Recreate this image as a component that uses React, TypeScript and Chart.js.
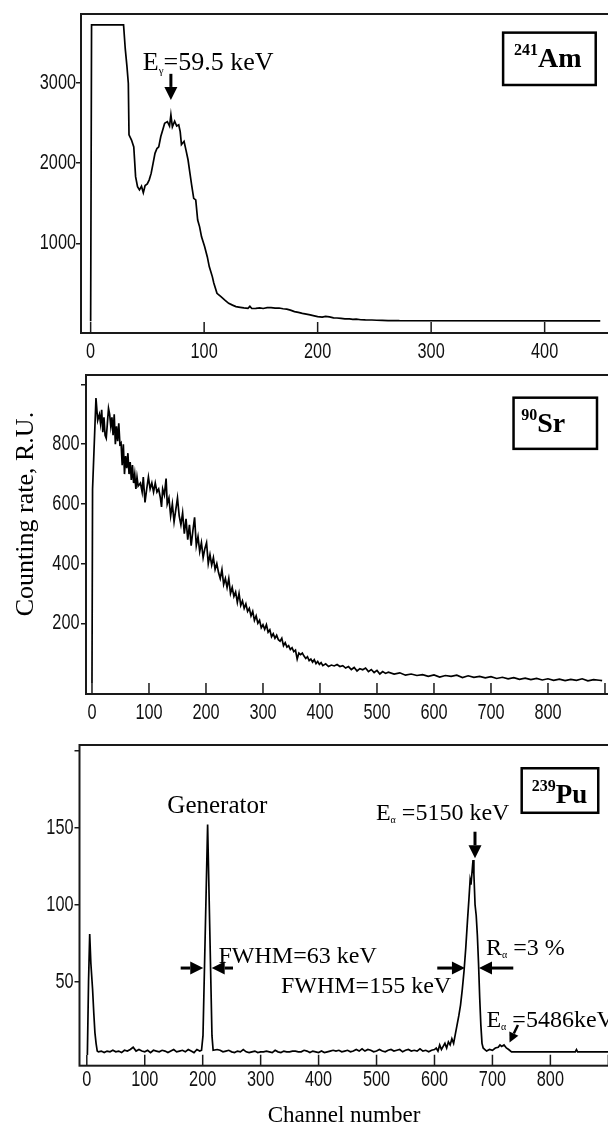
import React, { useEffect, useRef } from 'react';
import { Chart, registerables } from 'chart.js';

Chart.register(...registerables);

const SERIF = "'Liberation Serif', 'Times New Roman', Times, serif";
const SANS = "'Liberation Sans', Arial, sans-serif";

// ---------- 241Am spectrum ----------
const amChannels = [
  0, 0.8, 29, 30.5, 32, 33.2, 33.8, 36, 38, 39.6,
  41.3, 43, 44.8, 46.4, 48, 49.9, 51.6, 53.3, 55, 56.7,
  58.4, 60, 61.8, 63.5, 65.2, 67.6, 69.5, 70.7, 72, 74,
  75.8, 77.6, 78.9, 80, 82.3, 84, 85.8, 87.5, 89, 90.8,
  92.6, 94.3, 96, 97.7, 100.4, 102.8, 104.5, 107.2, 108.5, 111.3,
  114.8, 118, 121.6, 125, 128, 131.8, 135, 138.6, 140.3, 142,
  145.5, 149, 152, 155.5, 159, 162.5, 166, 169.5, 172.8, 176,
  179.6, 183, 186.5, 190, 193.4, 197, 200, 204, 207, 210.4,
  214, 217, 220.6, 224, 228, 231, 234, 238, 242, 247.8,
  252, 257, 262, 267, 272, 449,
];
const amCounts = [
  30, 3720, 3720, 3420, 3200, 2990, 2350, 2285, 2200, 1830,
  1705, 1665, 1710, 1630, 1720, 1740, 1790, 1870, 1995, 2120,
  2180, 2200, 2330, 2410, 2495, 2515, 2460, 2600, 2450, 2520,
  2460, 2475, 2390, 2230, 2270, 2160, 2040, 1870, 1725, 1560,
  1540, 1290, 1205, 1080, 960, 830, 710, 585, 505, 377,
  335, 295, 253, 230, 212, 203, 195, 190, 215, 188,
  190, 196, 188, 198, 200, 192, 194, 185, 180, 168,
  150, 140, 128, 118, 108, 96, 86, 80, 90, 84,
  72, 70, 65, 60, 58, 52, 55, 48, 46, 45,
  42, 40, 37, 38, 36, 35,
];
const amXTicks = [0, 100, 200, 300, 400];
const amXLabels = ['0', '100', '200', '300', '400'];
const amYTicks = [1000, 2000, 3000];
const amYLabels = ['1000', '2000', '3000'];

// ---------- 90Sr spectrum ----------
const srChannels = [
  0, 1, 7,
  10, 13, 15, 17, 19, 21, 23, 25, 27, 29, 31, 33, 35, 37, 39, 41, 43, 45,
  47, 49, 51, 53, 55, 57, 59, 61, 63, 65, 67, 69, 71, 73, 75, 77, 79, 81,
  85, 88, 90, 93, 96, 99, 102, 105, 108, 111, 114, 117, 120, 122, 124, 127, 130, 132,
  135, 138, 141, 144, 147, 150, 153, 156, 159, 162,
  165, 168, 171, 174, 177, 180, 183, 186, 189, 192,
  195, 198, 201, 204, 207, 210, 213, 216, 219, 222,
  225, 228, 231, 234, 237, 240, 243, 246, 249, 252,
  255, 258, 261, 264, 267, 270, 273, 276, 279, 282,
  285, 288, 291, 294, 297, 300, 303, 306, 309, 312,
  315, 318, 321, 324, 327, 330, 333, 336, 339, 342,
  345, 348, 351, 354, 357, 360, 363, 366, 369, 372,
  375, 378, 381, 384, 387, 390, 393, 396, 399, 402,
  405,
  410, 415, 420, 425, 430, 435, 440, 445, 450, 455, 460, 465, 470, 475, 480, 485,
  490, 495, 500, 505, 510, 515, 520,
  530, 540, 550, 560, 570, 580, 590, 600, 610, 620, 630, 640, 650, 660, 670, 680,
  690, 700, 710, 720, 730, 740, 750, 760, 770, 780, 790, 800, 810, 820, 830, 840,
  850, 860, 870, 880, 890,
  895,
];
const srCounts = [
  0, 650, 955,
  880, 900, 870, 915, 840, 890, 830, 820, 870, 920, 900, 860, 890, 830, 900, 800, 860, 810,
  870, 800, 805, 730, 800, 700, 760, 720, 770, 700, 740, 680, 730, 670, 700, 650, 690, 660,
  670, 640, 690, 605, 650, 690, 650, 670, 640, 670, 640, 650, 620, 590, 650, 630, 685, 600,
  620, 560, 600, 540, 580, 620, 560, 530, 570, 500,
  550, 480, 530, 460, 510, 555, 460, 490, 440, 470,
  420, 450, 470, 400, 430, 395, 420, 380, 400, 370,
  350, 380, 330, 350, 320, 350, 300, 320, 290, 305,
  270, 300, 260, 275, 250, 265, 240, 250, 225, 240,
  210, 225, 200, 210, 185, 195, 180, 195, 170, 178,
  155, 165, 150, 160, 145, 140, 150, 125, 135, 120,
  125, 112, 118, 105, 110, 80, 100, 95, 100, 90,
  82, 88, 75, 80, 70, 78, 65, 72, 62, 68,
  58,
  64, 55, 60, 57, 62, 55, 58, 50, 55, 45, 52, 40, 48, 44, 50, 38,
  45, 35, 42, 30, 38, 32, 36,
  30, 34, 26, 30, 25, 28, 22, 27, 20, 25, 22, 26, 18, 24, 19, 22,
  17, 21, 15, 19, 14, 18, 12, 16, 11, 15, 10, 14, 9, 13, 8, 12,
  9, 14, 7, 11, 9,
  8,
];
const srXTicks = [0, 100, 200, 300, 400, 500, 600, 700, 800, 900];
const srXLabels = ['0', '100', '200', '300', '400', '500', '600', '700', '800', ''];
const srYTicks = [200, 400, 600, 800, 1000];
const srYLabels = ['200', '400', '600', '800', ''];

// ---------- 239Pu spectrum ----------
const puChannels = [
  0, 1, 3, 5, 7, 10, 12, 14, 16, 18,
  20, 25, 30, 35, 40, 45, 50, 55, 60, 65, 70, 75, 80, 85, 90, 95, 100, 105,
  110, 115, 120, 125, 130, 135, 140, 145, 150, 155, 160, 165, 170, 175, 180, 185, 190, 195,
  198, 200.5, 208.5, 216, 218,
  225, 230, 235, 240, 245, 250, 255, 260, 265, 270,
  275, 280, 285, 290, 295, 300, 305, 310, 315, 320,
  325, 330, 335, 340, 345, 350, 355, 360, 365, 370,
  375, 380, 385, 390, 395, 400, 405, 410, 415, 420,
  425, 430, 435, 440, 445, 450, 455, 460, 465, 470,
  475, 480, 485, 490, 495, 500, 505, 510, 515, 520,
  525, 530, 535, 540, 545, 550, 555, 560, 565, 570,
  575, 580, 585, 590, 595, 600,
  603, 606, 609, 612, 615, 618, 621, 624, 627, 630,
  633, 636, 639, 642, 645, 648, 651, 654, 657, 659.5,
  661.5, 663, 665, 666.5, 668, 670, 672, 674, 676, 678,
  680, 682, 684, 687, 690,
  695, 700, 705, 710, 713, 716, 720, 724, 728, 733,
  780, 843, 845, 847, 930,
];
const puCounts = [
  3, 3, 50, 81, 62, 45, 30, 17, 10, 5,
  4.5, 5, 4, 5, 4.5, 5.5, 4.5, 5, 4, 5.5, 5, 6, 7.5, 5, 6, 5, 4.5, 5.5,
  4, 5.5, 5, 4.5, 5.5, 5, 4, 5, 6, 4.5, 5, 5.5, 4.5, 6, 5, 4, 6, 5,
  5.5, 15, 152, 15, 5.5,
  6, 5.5, 4.5, 5, 5.5, 4.5, 4, 5, 4.5, 6,
  4.5, 4, 4.5, 5, 4, 4.5, 4.5, 5, 4.5, 4,
  5.5, 4.5, 4, 5, 4.5, 4.5, 5, 5, 4.5, 4.5,
  5.5, 5, 4, 5, 4.5, 4, 5, 4, 4.5, 5,
  5.5, 5, 5.5, 4.5, 5, 5.5, 4.5, 5, 6, 5,
  6.5, 5, 6, 5.5, 4.5, 5, 6, 5, 4.5, 5.5,
  6, 5, 5.5, 6, 4.5, 5.5, 6, 5, 5.5, 5,
  6.5, 5, 5.5, 4.5, 5.5, 6,
  7, 5, 9, 6, 8, 10, 7, 11, 9, 13,
  10, 16, 22, 28, 35, 45, 57, 72, 90, 104,
  116, 113, 122, 129, 120, 100, 93, 80, 62, 40,
  22, 10, 7, 6, 5,
  6, 5.5, 7, 7.5, 9, 8, 9, 7, 6, 4.5,
  4.5, 4.5, 6, 4.5, 4.5,
];
const puXTicks = [0, 100, 200, 300, 400, 500, 600, 700, 800, 900];
const puXLabels = ['0', '100', '200', '300', '400', '500', '600', '700', '800', ''];
const puYTicks = [50, 100, 150, 200];
const puYLabels = ['50', '100', '150', ''];

// ---------- types ----------
type Part = { t: string; size: number; bold?: boolean; dy?: number };
type TextAnn = { x: number; y: number; parts: Part[] };
type ArrowAnn = { x1: number; y1: number; x2: number; y2: number; head?: number; half?: number; lw?: number };
type BoxAnn = { x1: number; y1: number; x2: number; y2: number };
type PanelCfg = {
  top: number; width: number; height: number; padTop: number; yWidth: number; xHeight: number;
  xMin: number; xMax: number; yMin: number; yMax: number;
  xTicks: number[]; xLabels: string[]; yTicks: number[]; yLabels: string[];
  xLabelDy: number; yLabelGap: number;
  channels: number[]; counts: number[];
  texts: TextAnn[]; arrows: ArrowAnn[]; boxes: BoxAnn[];
  yTitle?: { text: string; px: number; value: number; size: number };
  xTitle?: { text: string; value: number; dy: number; size: number };
};

const amPanel: PanelCfg = {
  top: 0, width: 630, height: 370, padTop: 14, yWidth: 81, xHeight: 37,
  xMin: -8.5, xMax: 475.2, yMin: -117, yMax: 3855,
  xTicks: amXTicks, xLabels: amXLabels, yTicks: amYTicks, yLabels: amYLabels,
  xLabelDy: 18.5, yLabelGap: 5,
  channels: amChannels, counts: amCounts,
  texts: [
    { x: 46, y: 3158, parts: [{ t: 'E', size: 26 }, { t: 'γ', size: 11, dy: 4 }, { t: '=59.5 keV', size: 26 }] },
    { x: 373, y: 3199, parts: [{ t: '241', size: 16, bold: true, dy: -12 }, { t: 'Am', size: 28, bold: true }] },
  ],
  arrows: [{ x1: 70.7, y1: 3110, x2: 70.7, y2: 2785 }],
  boxes: [{ x1: 363.4, y1: 3623, x2: 445, y2: 2971 }],
};

const srPanel: PanelCfg = {
  top: 355, width: 630, height: 369, padTop: 20, yWidth: 86, xHeight: 30,
  xMin: -10.5, xMax: 943.9, yMin: -37, yMax: 1032,
  xTicks: srXTicks, xLabels: srXLabels, yTicks: srYTicks, yLabels: srYLabels,
  xLabelDy: 18.5, yLabelGap: 6.5,
  channels: srChannels, counts: srCounts,
  texts: [
    { x: 753, y: 842, parts: [{ t: '90', size: 16, bold: true, dy: -12 }, { t: 'Sr', size: 28, bold: true }] },
  ],
  arrows: [],
  boxes: [{ x1: 739.6, y1: 956, x2: 886, y2: 784.5 }],
  yTitle: { text: 'Counting rate, R.U.', px: 26, value: 566, size: 26 },
};

const puPanel: PanelCfg = {
  top: 725, width: 630, height: 403, padTop: 20, yWidth: 79.5, xHeight: 62.3,
  xMin: -12.6, xMax: 937.4, yMin: -4.5, yMax: 203.7,
  xTicks: puXTicks, xLabels: puXLabels, yTicks: puYTicks, yLabels: puYLabels,
  xLabelDy: 14.5, yLabelGap: 6,
  channels: puChannels, counts: puCounts,
  texts: [
    { x: 139, y: 159.7, parts: [{ t: 'Generator', size: 25 }] },
    { x: 227.3, y: 62, parts: [{ t: 'FWHM=63 keV', size: 24 }] },
    { x: 335, y: 42.5, parts: [{ t: 'FWHM=155 keV', size: 24 }] },
    { x: 688.9, y: 67.3, parts: [{ t: 'R', size: 24 }, { t: 'α', size: 10, dy: 3 }, { t: ' =3 %', size: 24 }] },
    { x: 499, y: 155, parts: [{ t: 'E', size: 24 }, { t: 'α', size: 10, dy: 3 }, { t: ' =5150 keV', size: 24 }] },
    { x: 689.7, y: 20.3, parts: [{ t: 'E', size: 24 }, { t: 'α', size: 10, dy: 3 }, { t: ' =5486keV', size: 24 }] },
    { x: 767.7, y: 165.8, parts: [{ t: '239', size: 16, bold: true, dy: -12 }, { t: 'Pu', size: 27, bold: true }] },
  ],
  arrows: [
    { x1: 162, y1: 58.9, x2: 201, y2: 58.9 },
    { x1: 252.3, y1: 58.9, x2: 215.5, y2: 58.9 },
    { x1: 604.8, y1: 58.9, x2: 652.6, y2: 58.9 },
    { x1: 736, y1: 58.9, x2: 676.8, y2: 58.9 },
    { x1: 669.9, y1: 147.4, x2: 669.9, y2: 130.1 },
    { x1: 744, y1: 21.9, x2: 729.5, y2: 10.5, head: 10, half: 5, lw: 2.5 },
  ],
  boxes: [{ x1: 750.5, y1: 188.6, x2: 882.6, y2: 159.7 }],
  xTitle: { text: 'Channel number', value: 443.8, dy: 56, size: 23 },
};

function drawArrow(ctx: CanvasRenderingContext2D, x1: number, y1: number, x2: number, y2: number,
  head = 13, half = 6.5, lw = 3) {
  const ang = Math.atan2(y2 - y1, x2 - x1);
  const bx = x2 - head * Math.cos(ang);
  const by = y2 - head * Math.sin(ang);
  ctx.lineWidth = lw;
  ctx.beginPath();
  ctx.moveTo(x1, y1);
  ctx.lineTo(bx, by);
  ctx.stroke();
  ctx.beginPath();
  ctx.moveTo(x2, y2);
  ctx.lineTo(bx + half * Math.sin(ang), by - half * Math.cos(ang));
  ctx.lineTo(bx - half * Math.sin(ang), by + half * Math.cos(ang));
  ctx.closePath();
  ctx.fill();
}

// condensed tick label (narrow sans, like Arial Narrow)
function narrowText(ctx: CanvasRenderingContext2D, text: string, x: number, y: number, align: CanvasTextAlign) {
  ctx.save();
  ctx.translate(x, y);
  ctx.scale(0.74, 1);
  ctx.font = `22px ${SANS}`;
  ctx.textAlign = align;
  ctx.textBaseline = 'middle';
  ctx.fillText(text, 0, 0);
  ctx.restore();
}

function makeAnnotPlugin(cfg: PanelCfg) {
  return {
    id: 'annot',
    afterDraw(chart: any) {
      const ctx: CanvasRenderingContext2D = chart.ctx;
      const a = chart.chartArea;
      const xs = chart.scales.x;
      const ys = chart.scales.y;
      const px = (v: number) => xs.getPixelForValue(v);
      const py = (v: number) => ys.getPixelForValue(v);
      ctx.save();
      // frame
      ctx.strokeStyle = '#1a1a1a';
      ctx.lineWidth = 2;
      ctx.strokeRect(a.left, a.top, a.right - a.left, a.bottom - a.top);
      // inward x ticks
      ctx.lineWidth = 1.5;
      ctx.beginPath();
      xs.ticks.forEach((t: any) => {
        const x = px(t.value);
        ctx.moveTo(x, a.bottom);
        ctx.lineTo(x, a.bottom - 11);
      });
      ctx.stroke();
      // tick labels (condensed)
      ctx.fillStyle = '#111';
      xs.ticks.forEach((t: any) => {
        const i = cfg.xTicks.indexOf(t.value);
        const lab = i >= 0 ? cfg.xLabels[i] : '';
        if (lab) narrowText(ctx, lab, px(t.value), a.bottom + cfg.xLabelDy, 'center');
      });
      ys.ticks.forEach((t: any) => {
        const i = cfg.yTicks.indexOf(t.value);
        const lab = i >= 0 ? cfg.yLabels[i] : '';
        if (lab) narrowText(ctx, lab, a.left - cfg.yLabelGap, py(t.value), 'right');
      });
      // boxes
      ctx.strokeStyle = '#000';
      ctx.fillStyle = '#000';
      ctx.lineWidth = 2.5;
      cfg.boxes.forEach((b) => {
        const x1 = px(b.x1), x2 = px(b.x2), y1 = py(b.y1), y2 = py(b.y2);
        ctx.strokeRect(x1, y1, x2 - x1, y2 - y1);
      });
      // arrows
      cfg.arrows.forEach((ar) => {
        drawArrow(ctx, px(ar.x1), py(ar.y1), px(ar.x2), py(ar.y2), ar.head, ar.half, ar.lw);
      });
      // texts
      ctx.textAlign = 'left';
      ctx.textBaseline = 'alphabetic';
      cfg.texts.forEach((tx) => {
        let cx = px(tx.x);
        const by = py(tx.y);
        tx.parts.forEach((p) => {
          ctx.font = `${p.bold ? 'bold ' : ''}${p.size}px ${SERIF}`;
          ctx.fillText(p.t, cx, by + (p.dy || 0));
          cx += ctx.measureText(p.t).width;
        });
      });
      if (cfg.yTitle) {
        const t = cfg.yTitle;
        ctx.save();
        ctx.translate(t.px, py(t.value));
        ctx.rotate(-Math.PI / 2);
        ctx.font = `${t.size}px ${SERIF}`;
        ctx.textAlign = 'center';
        ctx.textBaseline = 'middle';
        ctx.fillText(t.text, 0, 0);
        ctx.restore();
      }
      if (cfg.xTitle) {
        const t = cfg.xTitle;
        ctx.font = `${t.size}px ${SERIF}`;
        ctx.textAlign = 'center';
        ctx.textBaseline = 'alphabetic';
        ctx.fillText(t.text, px(t.value), a.bottom + t.dy);
      }
      ctx.restore();
    },
  };
}

function Panel({ cfg }: { cfg: PanelCfg }) {
  const ref = useRef<HTMLCanvasElement | null>(null);
  useEffect(() => {
    if (!ref.current) return;
    const points = cfg.channels.map((c, i) => ({ x: c, y: cfg.counts[i] }));
    const chart = new Chart(ref.current, {
      type: 'line',
      data: {
        datasets: [{
          data: points,
          borderColor: '#000',
          borderWidth: 1.7,
          pointRadius: 0,
          tension: 0,
          fill: false,
        }],
      },
      options: {
        animation: false,
        responsive: false,
        devicePixelRatio: 1,
        events: [],
        layout: { padding: { left: 0, right: 0, top: cfg.padTop, bottom: 0 } },
        plugins: { legend: { display: false }, tooltip: { enabled: false } },
        scales: {
          x: {
            type: 'linear',
            min: cfg.xMin,
            max: cfg.xMax,
            grid: { display: false, drawTicks: false },
            border: { display: false },
            ticks: { display: false, autoSkip: false },
            afterBuildTicks: (s: any) => { s.ticks = cfg.xTicks.map((v) => ({ value: v })); },
            afterFit: (s: any) => { s.height = cfg.xHeight; },
          },
          y: {
            type: 'linear',
            min: cfg.yMin,
            max: cfg.yMax,
            grid: { drawOnChartArea: false, drawTicks: true, tickLength: 5, color: '#1a1a1a', lineWidth: 1.5 },
            border: { display: false },
            ticks: { display: false, autoSkip: false },
            afterBuildTicks: (s: any) => { s.ticks = cfg.yTicks.map((v) => ({ value: v })); },
            afterFit: (s: any) => { s.width = cfg.yWidth; },
          },
        },
      } as any,
      plugins: [makeAnnotPlugin(cfg)],
    });
    return () => chart.destroy();
  }, [cfg]);
  return (
    <canvas
      ref={ref}
      width={cfg.width}
      height={cfg.height}
      style={{ position: 'absolute', left: 0, top: cfg.top, width: cfg.width, height: cfg.height }}
    />
  );
}

export default function App() {
  return (
    <div
      style={{
        position: 'fixed', left: 0, top: 0, width: 608, height: 1124,
        overflow: 'hidden', background: '#fff',
      }}
    >
      <Panel cfg={amPanel} />
      <Panel cfg={srPanel} />
      <Panel cfg={puPanel} />
    </div>
  );
}
